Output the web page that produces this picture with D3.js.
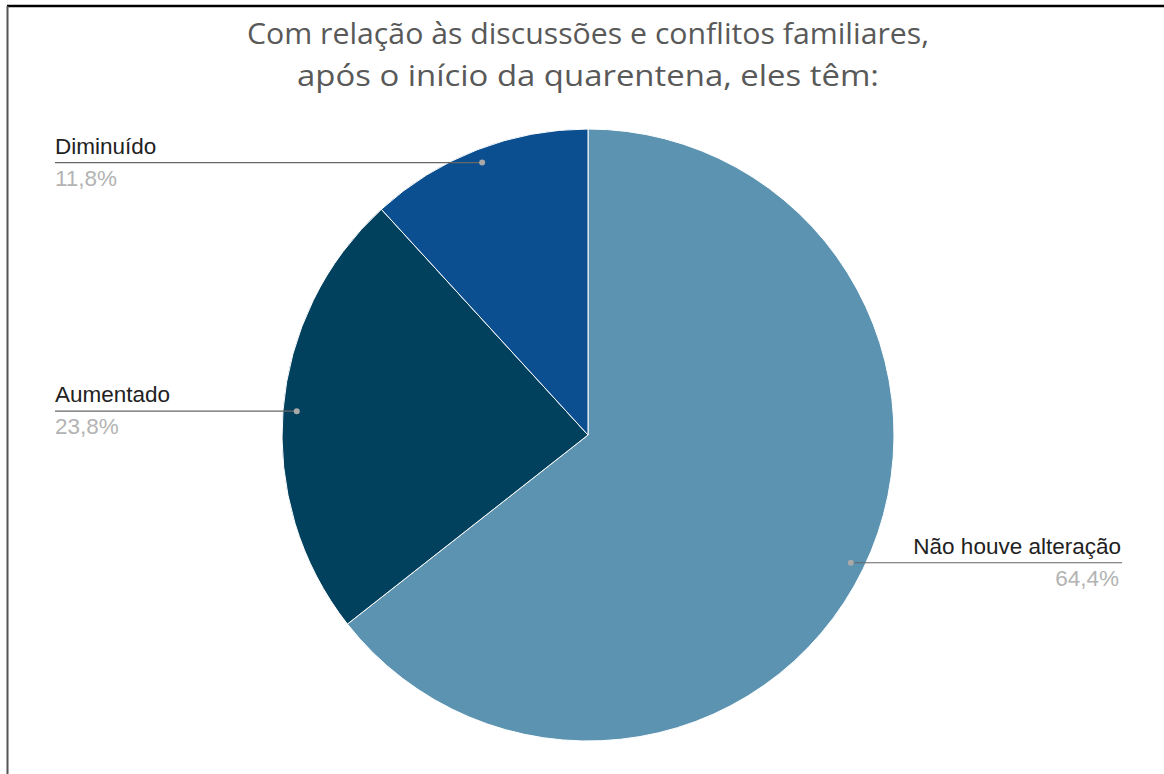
<!DOCTYPE html>
<html>
<head>
<meta charset="utf-8">
<script src="https://cdn.jsdelivr.net/npm/d3@7"></script>
<style>
  html, body { margin: 0; padding: 0; background: #fff; }
  svg { display: block; }
</style>
</head>
<body>
<svg id="chart" width="1164" height="774"></svg>
<script>
// Survey answers and their shares (percent)
const categories = ["Não houve alteração", "Aumentado", "Diminuído"];
const values = [64.4, 23.8, 11.8];
const valueLabels = ["64,4%", "23,8%", "11,8%"];
const colors = ["#5b93b1", "#01415e", "#0c4f91"];
const titleLines = [
  "Com relação às discussões e conflitos familiares,",
  "após o início da quarentena, eles têm:"
];

const svg = d3.select("#chart");
const W = 1164, H = 774;
const cx = 588, cy = 435, R = 306;

// frame
svg.append("line").attr("x1", 7).attr("x2", W).attr("y1", 6).attr("y2", 6)
  .attr("stroke", "#000").attr("stroke-width", 2.5);
svg.append("line").attr("x1", 7.5).attr("x2", 7.5).attr("y1", 6).attr("y2", H)
  .attr("stroke", "#555").attr("stroke-width", 2);

// title
const titleWidths = [682, 582];
svg.append("g").selectAll("text").data(titleLines).join("text")
  .attr("x", cx).attr("y", (d, i) => 44 + i * 42)
  .attr("text-anchor", "middle")
  .attr("font-family", "'Open Sans', sans-serif")
  .attr("font-size", 30)
  .attr("fill", "#595959")
  .attr("textLength", (d, i) => titleWidths[i])
  .attr("lengthAdjust", "spacingAndGlyphs")
  .text(d => d);

const data = categories.map((c, i) => ({ name: c, value: values[i], label: valueLabels[i], color: colors[i] }));

const pie = d3.pie().sort(null).value(d => d.value);
const arcs = pie(data);
const arc = d3.arc().innerRadius(0).outerRadius(R);

const g = svg.append("g").attr("transform", `translate(${cx},${cy})`);
g.selectAll("path").data(arcs).join("path")
  .attr("d", arc)
  .attr("fill", d => d.data.color)
  .attr("stroke", "#fff")
  .attr("stroke-width", 1);

// leader lines and labels
const dotR = R * 0.955;
const labelFont = "'Liberation Sans', Arial, sans-serif";
const leftX = 55, rightX = 1122;

arcs.forEach(a => {
  const mid = (a.startAngle + a.endAngle) / 2;
  const px = cx + dotR * Math.sin(mid);
  const py = cy - dotR * Math.cos(mid);
  const right = Math.sin(mid) > 0;
  const ex = right ? rightX : leftX;
  const anchor = right ? "end" : "start";

  svg.append("line")
    .attr("x1", px).attr("y1", py).attr("x2", ex).attr("y2", py)
    .attr("stroke", "#666").attr("stroke-width", 1.2);
  svg.append("circle").attr("cx", px).attr("cy", py).attr("r", 3)
    .attr("fill", "#a9a9a9");
  svg.append("text")
    .attr("x", ex + (right ? -1 : 0)).attr("y", py - 9)
    .attr("text-anchor", anchor)
    .attr("font-family", labelFont).attr("font-size", 22.5)
    .attr("fill", "#222")
    .text(a.data.name);
  svg.append("text")
    .attr("x", ex + (right ? -3 : 0)).attr("y", py + 23)
    .attr("text-anchor", anchor)
    .attr("font-family", labelFont).attr("font-size", 22.5)
    .attr("fill", "#b3b3b3")
    .text(a.data.label);
});
</script>
</body>
</html>
